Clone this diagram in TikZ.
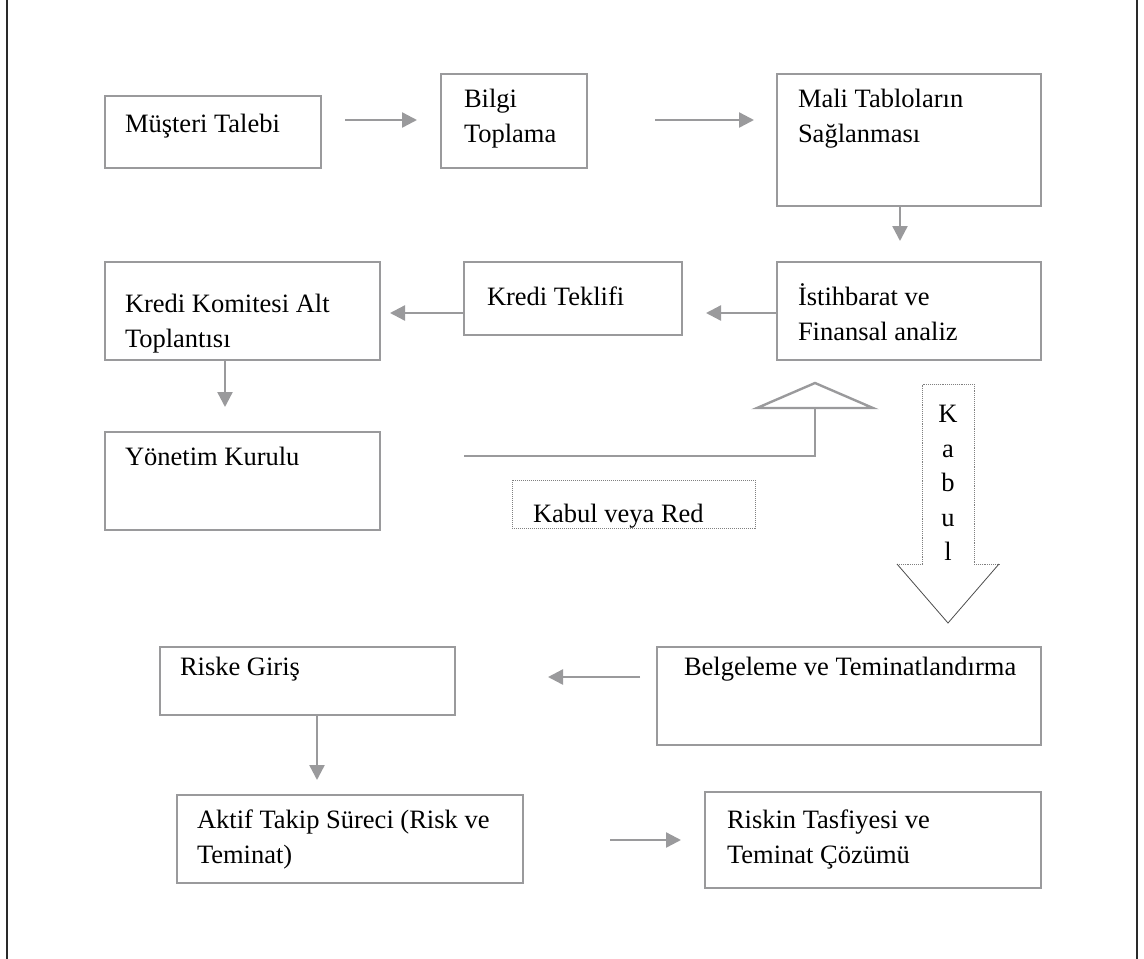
\documentclass[tikz,border=0pt]{standalone}
\usepackage{fontspec}
\setmainfont{Liberation Serif}
\usetikzlibrary{arrows.meta,calc}

\definecolor{boxgray}{HTML}{9A9A9C}
\definecolor{framegray}{HTML}{2A2A2A}

\tikzset{
  box/.style={draw=boxgray, line width=2.4pt, minimum width=#1, inner sep=0pt, outer sep=0pt},
  lbl/.style={inner sep=0pt, outer sep=0pt, align=left, anchor=base west,
              font=\fontsize{26.5}{35}\selectfont, text=black},
  flow/.style={draw=boxgray, line width=2.4pt,
               -{Triangle[length=15pt,width=15pt]}, color=boxgray},
  plain/.style={draw=boxgray, line width=2.4pt},
}

% box from corner (x1,y1) to (x2,y2), y measured downwards
\newcommand\flowbox[5]{%
  \node[box={(#4-#2)*1pt}, minimum height={(#5-#3)*1pt}]
    (#1) at ({(#2+#4)/2},{(#3+#5)/2}) {};}

\begin{document}
\begin{tikzpicture}[x=1pt,y=-1pt]
  \useasboundingbox (0,0) rectangle (1144,959);

  % outer frame (left and right rules run the full height)
  \draw[framegray, line width=2.6pt] (7,-5) -- (7,965);
  \draw[framegray, line width=2.6pt] (1137,-5) -- (1137,965);

  % boxes
  \flowbox{b1}{105}{96}{321}{168}
  \flowbox{b2}{441}{74}{587}{168}
  \flowbox{b3}{777}{74}{1041}{206}
  \flowbox{b4}{777}{262}{1041}{360}
  \flowbox{b5}{464}{262}{682}{335}
  \flowbox{b6}{105}{262}{380}{360}
  \flowbox{b7}{105}{432}{380}{530}
  \flowbox{b8}{657}{647}{1041}{745}
  \flowbox{b9}{160}{647}{455}{715}
  \flowbox{b10}{177}{795}{523}{883}
  \flowbox{b11}{705}{792}{1041}{888}

  % texts (multi-line labels are placed by the baseline of their last line)
  \node[lbl] (t1) at (125,132) {Müşteri Talebi};
  \node[lbl] (t2) at (464,142) {Bilgi\\Toplama};
  \node[lbl] (t3) at (798,142) {Mali Tabloların\\Sağlanması};
  \node[lbl] (t4) at (798,340) {İstihbarat ve\\Finansal analiz};
  \node[lbl] (t5) at (487,305) {Kredi Teklifi};
  \node[lbl] (t6) at (125,347) {Kredi Komitesi Alt\\Toplantısı};
  \node[lbl] (t7) at (125,465) {Yönetim Kurulu};
  \node[lbl] (t8) at (684,675) {Belgeleme ve Teminatlandırma};
  \node[lbl] (t9) at (180,675) {Riske Giriş};
  \node[lbl] (t10) at (197,863) {Aktif Takip Süreci (Risk ve\\Teminat)};
  \node[lbl] (t11) at (727,863) {Riskin Tasfiyesi ve\\Teminat Çözümü};

  % arrow end points
  \coordinate (a1s) at (345,120);  \coordinate (a1e) at (417,120);
  \coordinate (a2s) at (655,120);  \coordinate (a2e) at (754,120);
  \coordinate (a3s) at (900,206);  \coordinate (a3e) at (900,241);
  \coordinate (a4s) at (777,313);  \coordinate (a4e) at (706,313);
  \coordinate (a5s) at (464,313);  \coordinate (a5e) at (390,313);
  \coordinate (a6s) at (225,360);  \coordinate (a6e) at (225,407);
  \coordinate (a7s) at (640,677);  \coordinate (a7e) at (548,677);
  \coordinate (a8s) at (317,715);  \coordinate (a8e) at (317,780);
  \coordinate (a9s) at (610,840);  \coordinate (a9e) at (681,840);

  \draw[flow] (a1s) -- (a1e);
  \draw[flow] (a2s) -- (a2e);
  \draw[flow] (a3s) -- (a3e);
  \draw[flow] (a4s) -- (a4e);
  \draw[flow] (a5s) -- (a5e);
  \draw[flow] (a6s) -- (a6e);
  \draw[flow] (a7s) -- (a7e);
  \draw[flow] (a8s) -- (a8e);
  \draw[flow] (a9s) -- (a9e);

  % feedback line from the board back to the analysis, ending in an open triangle
  \coordinate (fbs) at (464,456);
  \coordinate (fbc) at (815,456);
  \coordinate (fbt) at (815,408);
  \draw[plain] (fbs) -- (fbc) -- (fbt);
  \draw[plain, line join=miter] (757,408) -- (815,383) -- (873,408) -- cycle;

  % decision note
  \node[draw=gray, densely dotted, line width=1pt, minimum width=243pt, minimum height=48pt,
        inner sep=0pt] (kvr) at (633.5,504) {};
  \node[lbl] (kvrt) at (533,522) {Kabul veya Red};

  % large "Kabul" arrow
  \draw[gray, densely dotted, line width=0.9pt]
    (922,564) -- (922,384) -- (974,384) -- (974,564);
  \draw[gray, densely dotted, line width=0.9pt] (897,564) -- (922,564);
  \draw[gray, densely dotted, line width=0.9pt] (974,564) -- (999,564);
  \draw[black!70, line width=0.8pt] (897,564) -- (948,623) -- (999,564);
  \node[lbl, anchor=base] (k1) at (948,422) {K};
  \node[lbl, anchor=base] (k2) at (948,457) {a};
  \node[lbl, anchor=base] (k3) at (948,491) {b};
  \node[lbl, anchor=base] (k4) at (948,526) {u};
  \node[lbl, anchor=base] (k5) at (948,560) {l};
\end{tikzpicture}
\end{document}
